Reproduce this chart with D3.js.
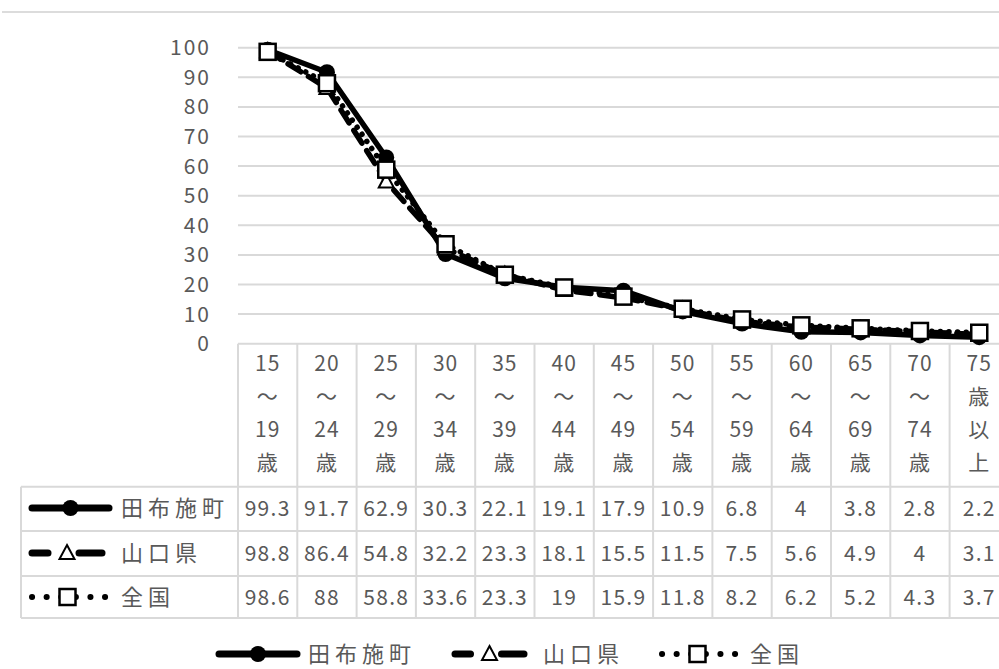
<!DOCTYPE html>
<html>
<head>
<meta charset="utf-8">
<script src="https://cdn.jsdelivr.net/npm/d3@7"></script>
<style>
  body { margin: 0; background: #fff; }
  svg { display: block; }
</style>
</head>
<body>
<svg id="chart" width="999" height="669"></svg>
<script>
const ageGroups = [
  ["15", "～", "19", "歳"], ["20", "～", "24", "歳"], ["25", "～", "29", "歳"],
  ["30", "～", "34", "歳"], ["35", "～", "39", "歳"], ["40", "～", "44", "歳"],
  ["45", "～", "49", "歳"], ["50", "～", "54", "歳"], ["55", "～", "59", "歳"],
  ["60", "～", "64", "歳"], ["65", "～", "69", "歳"], ["70", "～", "74", "歳"],
  ["75", "歳", "以", "上"]
];
const seriesNames = ["田布施町", "山口県", "全国"];
const tabuseValues = [99.3, 91.7, 62.9, 30.3, 22.1, 19.1, 17.9, 10.9, 6.8, 4, 3.8, 2.8, 2.2];
const yamaguchiValues = [98.8, 86.4, 54.8, 32.2, 23.3, 18.1, 15.5, 11.5, 7.5, 5.6, 4.9, 4, 3.1];
const zenkokuValues = [98.6, 88, 58.8, 33.6, 23.3, 19, 15.9, 11.8, 8.2, 6.2, 5.2, 4.3, 3.7];
const yTicks = [0, 10, 20, 30, 40, 50, 60, 70, 80, 90, 100];

const font = '"Noto Sans CJK JP", "Noto Sans", sans-serif';
const textColor = "#595959";
const gridColor = "#d9d9d9";

const svg = d3.select("#chart");

const cats = ageGroups.map(d => d.join(""));
const x = d3.scaleBand().domain(cats).range([238, 238 + 13 * 59.3]);
const y = d3.scaleLinear().domain([0, 100]).range([343.7, 47.7]);

const series = [
  { name: seriesNames[0], values: tabuseValues, dash: null, marker: "circle" },
  { name: seriesNames[1], values: yamaguchiValues, dash: "15,9", marker: "triangle" },
  { name: seriesNames[2], values: zenkokuValues, dash: "0.1,8.5", marker: "square" }
];

// top frame line
svg.append("line")
  .attr("x1", 2).attr("x2", 999).attr("y1", 12).attr("y2", 12)
  .attr("stroke", "#dcdcdc").attr("stroke-width", 2);

// gridlines
svg.append("g").selectAll("line")
  .data(yTicks.filter(d => d > 0))
  .join("line")
  .attr("x1", x.range()[0]).attr("x2", x.range()[1])
  .attr("y1", d => y(d)).attr("y2", d => y(d))
  .attr("stroke", gridColor).attr("stroke-width", 2);

// y tick labels
svg.append("g").selectAll("text")
  .data(yTicks)
  .join("text")
  .attr("x", 211).attr("y", d => y(d))
  .attr("dy", "0.36em")
  .attr("text-anchor", "end")
  .attr("font-family", font).attr("font-size", 21)
  .attr("letter-spacing", 2)
  .attr("fill", textColor)
  .text(d => d);

// data table grid
const tableTop = y(0);
const rowLines = [486.7, 531, 576, 618];
const tg = svg.append("g").attr("stroke", gridColor).attr("stroke-width", 2);
tg.append("line").attr("x1", x.range()[0]).attr("x2", x.range()[1]).attr("y1", tableTop).attr("y2", tableTop);
rowLines.forEach(r => {
  tg.append("line").attr("x1", 21).attr("x2", x.range()[1]).attr("y1", r).attr("y2", r);
});
tg.append("line").attr("x1", 21).attr("x2", 21).attr("y1", rowLines[0]).attr("y2", rowLines[3]);
cats.forEach(c => {
  tg.append("line").attr("x1", x(c)).attr("x2", x(c)).attr("y1", tableTop).attr("y2", rowLines[3]);
});

// header labels
const header = svg.append("g").selectAll("text")
  .data(ageGroups)
  .join("text")
  .attr("font-family", font).attr("font-size", 21)
  .attr("fill", textColor)
  .attr("text-anchor", "middle");
header.selectAll("tspan")
  .data((d, i) => d.map(t => ({ t, c: cats[i] })))
  .join("tspan")
  .attr("x", d => x(d.c) + x.bandwidth() / 2)
  .attr("y", (d, i) => 363 + i * 33.3)
  .attr("dy", "0.36em")
  .attr("letter-spacing", 1)
  .text(d => d.t);

// table values
const rowCenters = [508, 553, 597];
series.forEach((s, si) => {
  svg.append("g").selectAll("text")
    .data(s.values)
    .join("text")
    .attr("x", (d, i) => x(cats[i]) + x.bandwidth() / 2)
    .attr("y", rowCenters[si])
    .attr("dy", "0.36em")
    .attr("text-anchor", "middle")
    .attr("font-family", font).attr("font-size", 21)
    .attr("letter-spacing", 1.3)
    .attr("fill", textColor)
    .text(d => d);
});

function drawMarker(g, type, cx, cy) {
  if (type === "circle") {
    g.append("circle").attr("cx", cx).attr("cy", cy).attr("r", 8).attr("fill", "#000");
  } else if (type === "triangle") {
    g.append("path")
      .attr("d", `M${cx},${cy - 8}L${cx + 7.5},${cy + 6}L${cx - 7.5},${cy + 6}Z`)
      .attr("fill", "#fff").attr("stroke", "#000").attr("stroke-width", 2);
  } else {
    g.append("rect").attr("x", cx - 8).attr("y", cy - 8).attr("width", 16).attr("height", 16)
      .attr("fill", "#fff").attr("stroke", "#000").attr("stroke-width", 2.5);
  }
}

// legend key: short line with the marker in the middle
function drawKey(g, s, x1, x2, cy) {
  const mid = (x1 + x2) / 2;
  if (s.marker === "triangle") {
    [[x1, mid - 16], [mid + 9, x2]].forEach(([a, b]) => {
      g.append("line").attr("x1", a + 3).attr("x2", b - 3).attr("y1", cy).attr("y2", cy)
        .attr("stroke", "#000").attr("stroke-width", 7).attr("stroke-linecap", "round");
    });
  } else if (s.marker === "square") {
    g.append("line").attr("x1", x1 + 3).attr("x2", x2).attr("y1", cy).attr("y2", cy)
      .attr("stroke", "#000").attr("stroke-width", 6).attr("stroke-linecap", "round")
      .attr("stroke-dasharray", "0.1,14.5");
  } else {
    g.append("line").attr("x1", x1 + 3).attr("x2", x2 - 3).attr("y1", cy).attr("y2", cy)
      .attr("stroke", "#000").attr("stroke-width", 7).attr("stroke-linecap", "round");
  }
  drawMarker(g, s.marker, mid, cy);
}

// lines and markers
const line = d3.line()
  .x((d, i) => x(cats[i]) + x.bandwidth() / 2)
  .y(d => y(d));

const plot = svg.append("g");
series.forEach(s => {
  plot.append("path")
    .attr("d", line(s.values))
    .attr("fill", "none")
    .attr("stroke", "#000")
    .attr("stroke-width", 5.5)
    .attr("stroke-linecap", "round")
    .attr("stroke-linejoin", "round")
    .attr("stroke-dasharray", s.dash);
  const mg = plot.append("g");
  s.values.forEach((v, i) => drawMarker(mg, s.marker, x(cats[i]) + x.bandwidth() / 2, y(v)));
});

// keys inside table
const tableKeys = [{ k1: 29, k2: 112 }, { k1: 29, k2: 105 }, { k1: 29, k2: 106 }];
series.forEach((s, si) => {
  const g = svg.append("g");
  drawKey(g, s, tableKeys[si].k1, tableKeys[si].k2, rowCenters[si]);
  g.append("text")
    .attr("x", 121).attr("y", rowCenters[si]).attr("dy", "0.36em")
    .attr("font-family", font).attr("font-size", 22)
    .attr("letter-spacing", 5)
    .attr("fill", textColor)
    .text(s.name);
});

// bottom legend
const legendY = 654;
const legendPos = [{ k1: 216, k2: 300, tx: 308 }, { k1: 452, k2: 527, tx: 543 }, { k1: 659, k2: 736, tx: 750 }];
series.forEach((s, si) => {
  const g = svg.append("g");
  const p = legendPos[si];
  drawKey(g, s, p.k1, p.k2, legendY);
  g.append("text")
    .attr("x", p.tx).attr("y", legendY).attr("dy", "0.36em")
    .attr("font-family", font).attr("font-size", 22)
    .attr("letter-spacing", 5)
    .attr("fill", textColor)
    .text(s.name);
});
</script>
</body>
</html>
